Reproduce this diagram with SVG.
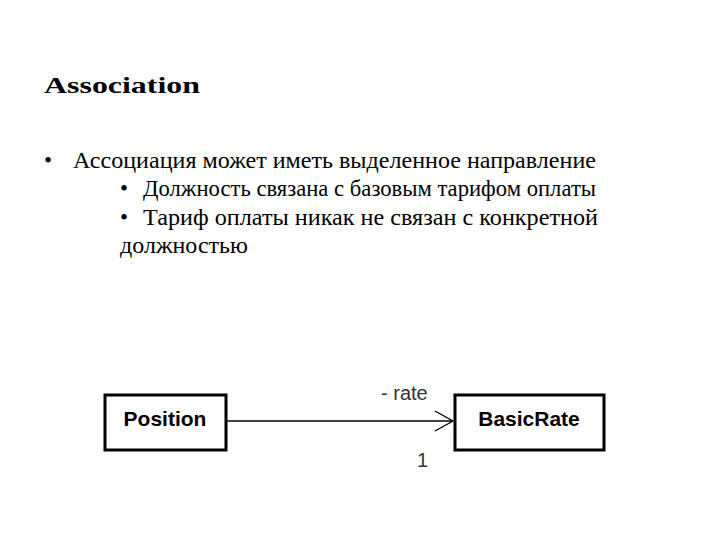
<svg xmlns="http://www.w3.org/2000/svg" width="720" height="540" viewBox="0 0 720 540">
<style>
.t{font-family:"Liberation Serif",serif;fill:#000;font-size:23px}
.box{fill:#fff;stroke:#000;stroke-width:3}
.n{font-family:"Liberation Sans",Arial,sans-serif;font-weight:bold;font-size:21px;text-anchor:middle}
.l{font-family:"Liberation Sans",Arial,sans-serif;font-size:20px;fill:#333}
</style>
<rect width="720" height="540" fill="#fff"/>
<text class="t" x="44" y="93" font-size="30" font-weight="bold" textLength="156" lengthAdjust="spacingAndGlyphs">Association</text>
<text class="t" x="44" y="168">•</text>
<text class="t" x="73" y="168" textLength="523" lengthAdjust="spacingAndGlyphs">Ассоциация может иметь выделенное направление</text>
<text class="t" x="120" y="196">•</text>
<text class="t" x="143" y="196" textLength="453" lengthAdjust="spacingAndGlyphs">Должность связана с базовым тарифом оплаты</text>
<text class="t" x="120" y="225">•</text>
<text class="t" x="143" y="225" textLength="455" lengthAdjust="spacingAndGlyphs">Тариф оплаты никак не связан с конкретной</text>
<text class="t" x="120" y="253" textLength="128" lengthAdjust="spacingAndGlyphs">должностью</text>
<g id="connectors" stroke="#000" stroke-width="1.3" fill="none">
<line x1="226" y1="421" x2="453" y2="421"/>
<polyline points="435,411 453,421 435,431"/>
</g>
<text class="l" x="381" y="400">- rate</text>
<text class="l" x="417" y="467">1</text>
<g id="position"><rect class="box" x="105" y="395" width="121" height="55"/><text class="n" x="165" y="426">Position</text></g>
<g id="basicrate"><rect class="box" x="455" y="395" width="149" height="55"/><text class="n" x="529" y="426">BasicRate</text></g>
</svg>
